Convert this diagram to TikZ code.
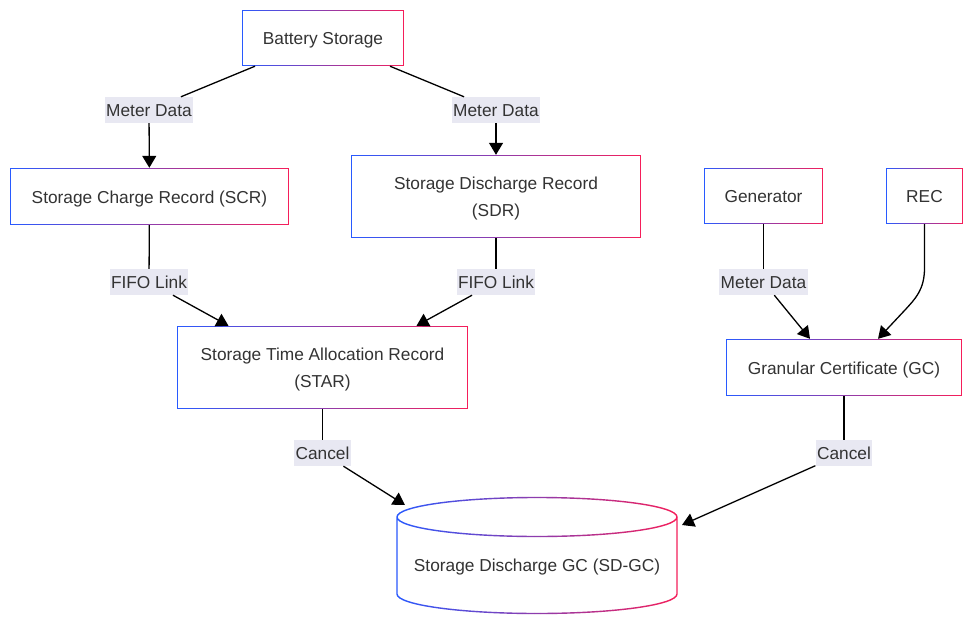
\documentclass[tikz,border=0pt]{standalone}
\usepackage{fontspec}
\setmainfont{Liberation Sans}
\usepackage{tikz}
\usetikzlibrary{arrows.meta,calc,positioning}
\usepackage{xcolor}
\definecolor{gblue}{RGB}{40,90,255}
\definecolor{gred}{RGB}{245,30,90}
\definecolor{lblbg}{RGB}{232,232,242}
\definecolor{txt}{RGB}{51,51,51}
\newcommand\lblfont{\fontsize{17.3}{26.5}\selectfont}
% gradient frame round a named box
\newcommand\gradframe[1]{%
  \path (#1.north west); \pgfgetlastxy{\gxa}{\gyt}
  \path (#1.south east); \pgfgetlastxy{\gxb}{\gyb}
  \pgfmathsetmacro\gw{(\gxb-\gxa)/40}
  \foreach \i in {0,...,39} {
    \pgfmathsetmacro\p{100-100*(\i+0.5)/40}
    \fill[gblue!\p!gred] ({\gxa+\i*\gw pt},{\gyt}) rectangle ({\gxa+(\i+1)*\gw pt+0.2pt},{\gyt-1.5pt});
    \fill[gblue!\p!gred] ({\gxa+\i*\gw pt},{\gyb}) rectangle ({\gxa+(\i+1)*\gw pt+0.2pt},{\gyb+1.5pt});
  }
  \fill[gblue] (#1.north west) rectangle ([xshift=1.5pt]#1.south west);
  \fill[gred] (#1.north east) rectangle ([xshift=-1.5pt]#1.south east);
}

\tikzset{
  gbox/.style={rectangle, fill=white, font=\lblfont, text=txt,
    align=center, inner sep=0pt, text height=15.5pt, text depth=2.5pt},
  twoline/.style={text height=42pt},
  lbl/.style={fill=lblbg, font=\lblfont, text=txt, inner xsep=1.5pt, inner ysep=0pt,
    text height=15.5pt, text depth=2.5pt, minimum height=26pt},
  conn/.style={draw=black, line width=1.3pt},
  arr/.style={conn, -{Triangle[length=12pt,width=14pt]}}
}

\begin{document}
\begin{tikzpicture}[x=1pt,y=-1pt]
\fill[white] (0,0) rectangle (975,626);
\useasboundingbox (0,0) rectangle (975,626);
% boxes
\node[gbox, minimum width=162pt, minimum height=56pt] (bat) at (323,38) {Battery Storage};
\node[gbox, minimum width=279pt, minimum height=57pt] (scr) at (149.5,196.5) {Storage Charge Record (SCR)};
\node[gbox, twoline, minimum width=290pt, minimum height=83pt] (sdr) at (496,196.5) {Storage Discharge Record\\(SDR)};
\node[gbox, minimum width=119pt, minimum height=56pt] (gen) at (763.5,196) {Generator};
\node[gbox, minimum width=77pt, minimum height=56pt] (rec) at (924.5,196) {REC};
\node[gbox, twoline, minimum width=291pt, minimum height=83pt] (star) at (322.5,367.5) {Storage Time Allocation Record\\(STAR)};
\node[gbox, minimum width=236pt, minimum height=57pt] (gc) at (844,367.5) {Granular Certificate (GC)};
\foreach \n in {bat,scr,sdr,gen,rec,star,gc} {\gradframe{\n}}
%
% cylinder
\foreach \i in {0,...,46} {
  \pgfmathsetmacro\p{100-100*(\i+0.5)/47}
  \begin{scope}
  \clip (396+\i*6,490) rectangle ++(6.2,135);
  \draw[line width=1.4pt, draw=gblue!\p!gred] (397,517) -- (397,594)
    arc[start angle=180, end angle=0, x radius=140, y radius=19.5] -- (677,517)
    (537,517) ellipse[x radius=140, y radius=19.5];
  \end{scope}
}
\node[font=\lblfont, text=txt, text height=15.5pt, text depth=2.5pt] (sdgc) at (537,565) {Storage Discharge GC (SD-GC)};
\coordinate (sdgcl) at (405,505);
\coordinate (sdgcr) at (682,525);
%
% labels
\node[lbl] (md1) at (149,110) {Meter Data};
\node[lbl] (md2) at (496,110) {Meter Data};
\node[lbl] (ff1) at (149,282) {FIFO Link};
\node[lbl] (ff2) at (496,282) {FIFO Link};
\node[lbl] (md3) at (763.5,282) {Meter Data};
\node[lbl] (cc1) at (322.5,453) {Cancel};
\node[lbl] (cc2) at (844,453) {Cancel};
%
% connectors
\draw[conn] ([xshift=-68pt]bat.south) -- (md1);
\draw[arr] (md1) -- (scr);
\draw[conn] ([xshift=67pt]bat.south) -- (md2);
\draw[arr] (md2) -- (sdr);
\draw[conn] (scr) -- (ff1);
\draw[arr] (ff1) -- ([xshift=-94pt]star.north);
\draw[conn] (sdr) -- (ff2);
\draw[arr] (ff2) -- ([xshift=94pt]star.north);
\draw[conn] (gen) -- (md3);
\draw[arr] (md3) -- ([xshift=-34pt]gc.north);
\draw[arr] (rec.south) -- (924.5,268) .. controls (924.5,290) and (915,299) .. (905,310) -- ([xshift=34pt]gc.north);
\draw[conn] (star) -- (cc1);
\draw[arr] (cc1) -- (sdgcl);
\draw[conn] (gc) -- (cc2);
\draw[arr] (cc2) -- (sdgcr);
\end{tikzpicture}
\end{document}
